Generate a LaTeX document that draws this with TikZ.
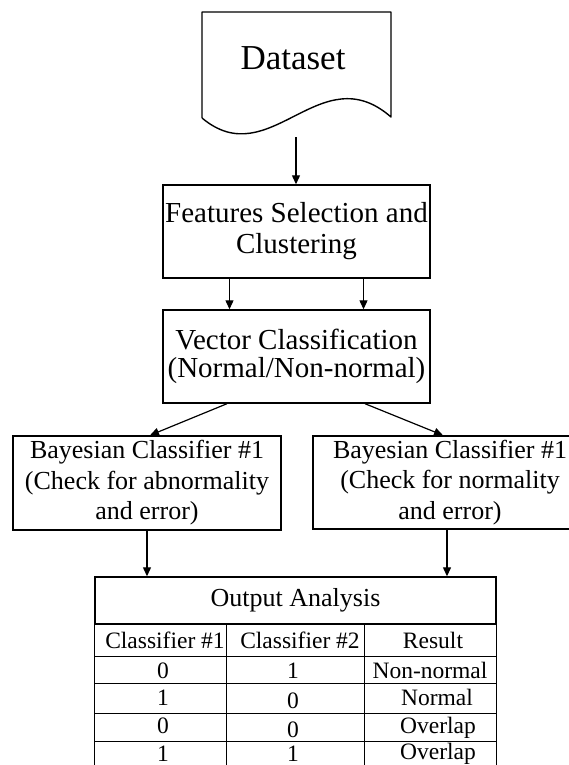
\documentclass[tikz,border=0pt]{standalone}
\usepackage{fontspec}
\setmainfont{Liberation Serif}
\usetikzlibrary{arrows.meta}
\begin{document}
\begin{tikzpicture}[x=1pt,y=-1pt,
  box/.style={draw, line width=1.4pt, inner sep=0pt, align=center},
  arr/.style={line width=1.2pt, -{Triangle[length=9pt,width=8pt]}},
  ln/.style={line width=1.4pt, line join=round},
  fdat/.style={font=\fontsize{35}{40}\selectfont},
  ffs/.style={font=\fontsize{29}{31}\selectfont},
  fvc/.style={font=\fontsize{29}{28.5}\selectfont},
  fbay/.style={font=\fontsize{26}{30.5}\selectfont},
  fhead/.style={font=\fontsize{26}{30}\selectfont},
  fcell/.style={font=\fontsize{23.5}{26}\selectfont, anchor=base, inner sep=0pt}
]
\useasboundingbox (0,0) rectangle (569,765);
\clip (0,0) rectangle (569,765);

% Dataset document shape
\draw[ln] (202,118) -- (202,12) -- (391,12) -- (391,117)
  .. controls (320,55) and (270,175) .. (202,118);
\node[fdat, anchor=base, inner sep=0pt] (ds) at (293,70) {Dataset};
\coordinate (dsb) at (296,137);

% Boxes
\node[box, ffs, minimum width=267pt, minimum height=93pt] (fs) at (296.5,231.5)
  {Features Selection and\\Clustering};
\node[box, fvc, minimum width=267pt, minimum height=93pt] (vc) at (296.5,356.5)
  {Vector Classification\\(Normal/Non-normal)};
\node[box, fbay, minimum width=268pt, minimum height=94pt] (bl) at (147,483)
  {Bayesian Classifier \#1\\(Check for abnormality\\and error)};
\node[box, fbay, minimum width=274pt, minimum height=93pt] (br) at (450,482.5)
  {Bayesian Classifier \#1\\(Check for normality\\and error)};

% Output analysis table
\node[box, fhead, minimum width=401pt, minimum height=47pt] (oa) at (295.5,600.5)
  {Output Analysis};
\coordinate (tsw) at (oa.south west);
\coordinate (tse) at (oa.south east);
\draw[ln] (tsw) -- ++(0,160);
\draw[ln] (tse) -- ++(0,160);
\draw[ln] ([xshift=132pt]tsw) -- ++(0,160);
\draw[ln] ([xshift=270pt]tsw) -- ++(0,160);
\foreach \yy in {32,59,89,117} {
  \draw[ln] ([yshift=-\yy pt]tsw) -- ([yshift=-\yy pt]tse);
}
\node[fcell] (h1) at (165,648) {Classifier \#1};
\node[fcell] (h2) at (300,648) {Classifier \#2};
\node[fcell] (h3) at (433,648) {Result};
\node[fcell] (a1) at (163,678) {0};
\node[fcell] (a2) at (293,678) {1};
\node[fcell] (a3) at (430,678) {Non-normal};
\node[fcell] (b1) at (163,705) {1};
\node[fcell] (b2) at (293,708) {0};
\node[fcell] (b3) at (437,705) {Normal};
\node[fcell] (c1) at (163,733) {0};
\node[fcell] (c2) at (293,737) {0};
\node[fcell] (c3) at (438,733) {Overlap};
\node[fcell] (d1) at (163,761) {1};
\node[fcell] (d2) at (293,761) {1};
\node[fcell] (d3) at (438,759) {Overlap};

% Connectors
\draw[arr] (dsb) -- (dsb |- fs.north);
\draw[arr] ([xshift=-67pt]fs.south) -- ([xshift=-67pt]vc.north);
\draw[arr] ([xshift=67pt]fs.south) -- ([xshift=67pt]vc.north);
\draw[arr] ([xshift=-69.5pt]vc.south) -- ([xshift=3pt]bl.north);
\draw[arr] ([xshift=68.5pt]vc.south) -- ([xshift=-7pt]br.north);
\draw[arr] (bl.south) -- (bl.south |- oa.north);
\draw[arr] ([xshift=-3pt]br.south) -- ([xshift=-3pt]br.south |- oa.north);
\end{tikzpicture}
\end{document}
